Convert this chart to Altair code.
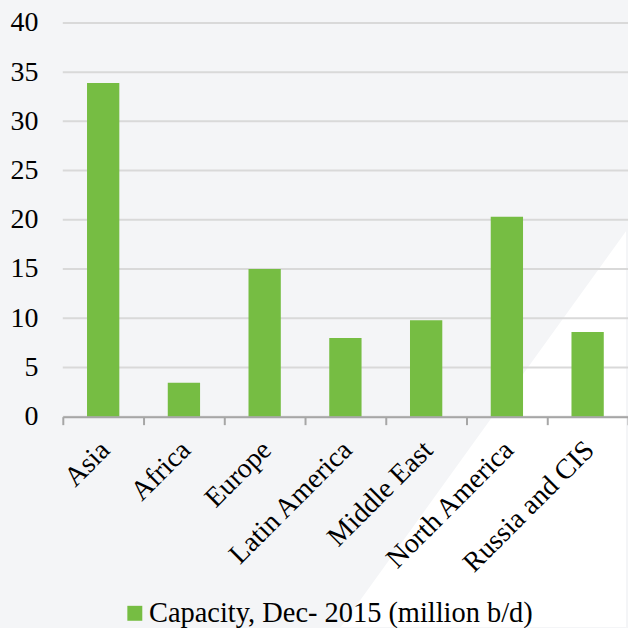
import altair as alt
import pandas as pd

# Refining capacity by region, December 2015 (million barrels per day)
regions = ["Asia", "Africa", "Europe", "Latin America", "Middle East",
           "North America", "Russia and CIS"]
capacity = [33.9, 3.45, 15.0, 8.0, 9.8, 20.3, 8.6]
series_name = "Capacity, Dec- 2015 (million b/d)"
y_ticks = [0, 5, 10, 15, 20, 25, 30, 35, 40]

# Decorative white wedge in the lower right corner (pixel coordinates of the view)
wedge_x = [279, 565]
wedge_top = [606, 209]
wedge_bottom = [606, 606]

FONT = "Liberation Serif"
GREEN = "#76BD43"
AXIS_GREY = "#A6A6A6"
GRID_GREY = "#D9D9D9"
BG = "#F4F5F7"

W, H = 567, 395

bars_df = pd.DataFrame({"region": regions, "capacity": capacity,
                        "series": [series_name] * len(regions)})
grid_df = pd.DataFrame({"v": y_ticks})
wedge_df = pd.DataFrame({"px": wedge_x, "py": wedge_top, "py2": wedge_bottom})

wedge = alt.Chart(wedge_df).mark_area(color="white").encode(
    x=alt.X("px:Q", scale=None, axis=None),
    y=alt.Y("py:Q", scale=None, axis=None),
    y2="py2:Q",
)

y_scale = alt.Scale(domain=[0, 40], nice=False)
y_axis = alt.Axis(values=y_ticks, labelFont=FONT, labelFontSize=28,
                  labelColor="black", labelPadding=25, ticks=False,
                  domain=False, grid=False)

grid = alt.Chart(grid_df).mark_rule(color=GRID_GREY, strokeWidth=2).encode(
    y=alt.Y("v:Q", scale=y_scale, axis=y_axis, title=None),
)

bars = alt.Chart(bars_df).mark_bar(width=alt.RelativeBandSize(0.40)).encode(
    x=alt.X("region:N", sort=regions, title=None,
            scale=alt.Scale(paddingInner=0, paddingOuter=0),
            axis=alt.Axis(labelAngle=-45, labelAlign="right", labelBaseline="middle",
                          labelFont=FONT, labelFontSize=28, labelColor="black",
                          labelPadding=21, labelOffset=2, tickBand="extent",
                          tickSize=8, tickWidth=2, tickColor=AXIS_GREY,
                          domainColor=AXIS_GREY, domainWidth=2, grid=False,
                          zindex=2)),
    y=alt.Y("capacity:Q", scale=y_scale, title=None, axis=y_axis),
    color=alt.Color("series:N", scale=alt.Scale(range=[GREEN]),
                    legend=alt.Legend(title=None, orient="none", legendX=58,
                                      legendY=578, symbolType="square",
                                      symbolSize=225, symbolStrokeWidth=0,
                                      labelFont=FONT, labelFontSize=28.5,
                                      labelColor="black", labelOffset=0,
                                      labelLimit=600, padding=0)),
)

chart = alt.layer(wedge, alt.layer(grid, bars)).resolve_scale(
    x="independent", y="independent"
).properties(
    width=W, height=H,
    autosize=alt.AutoSizeParams(type="none"),
    padding={"left": 63, "top": 22, "right": 0, "bottom": 211},
    background=BG,
).configure_view(stroke=None)

chart.save("out.html", embed_options={"renderer": "svg", "actions": False})
